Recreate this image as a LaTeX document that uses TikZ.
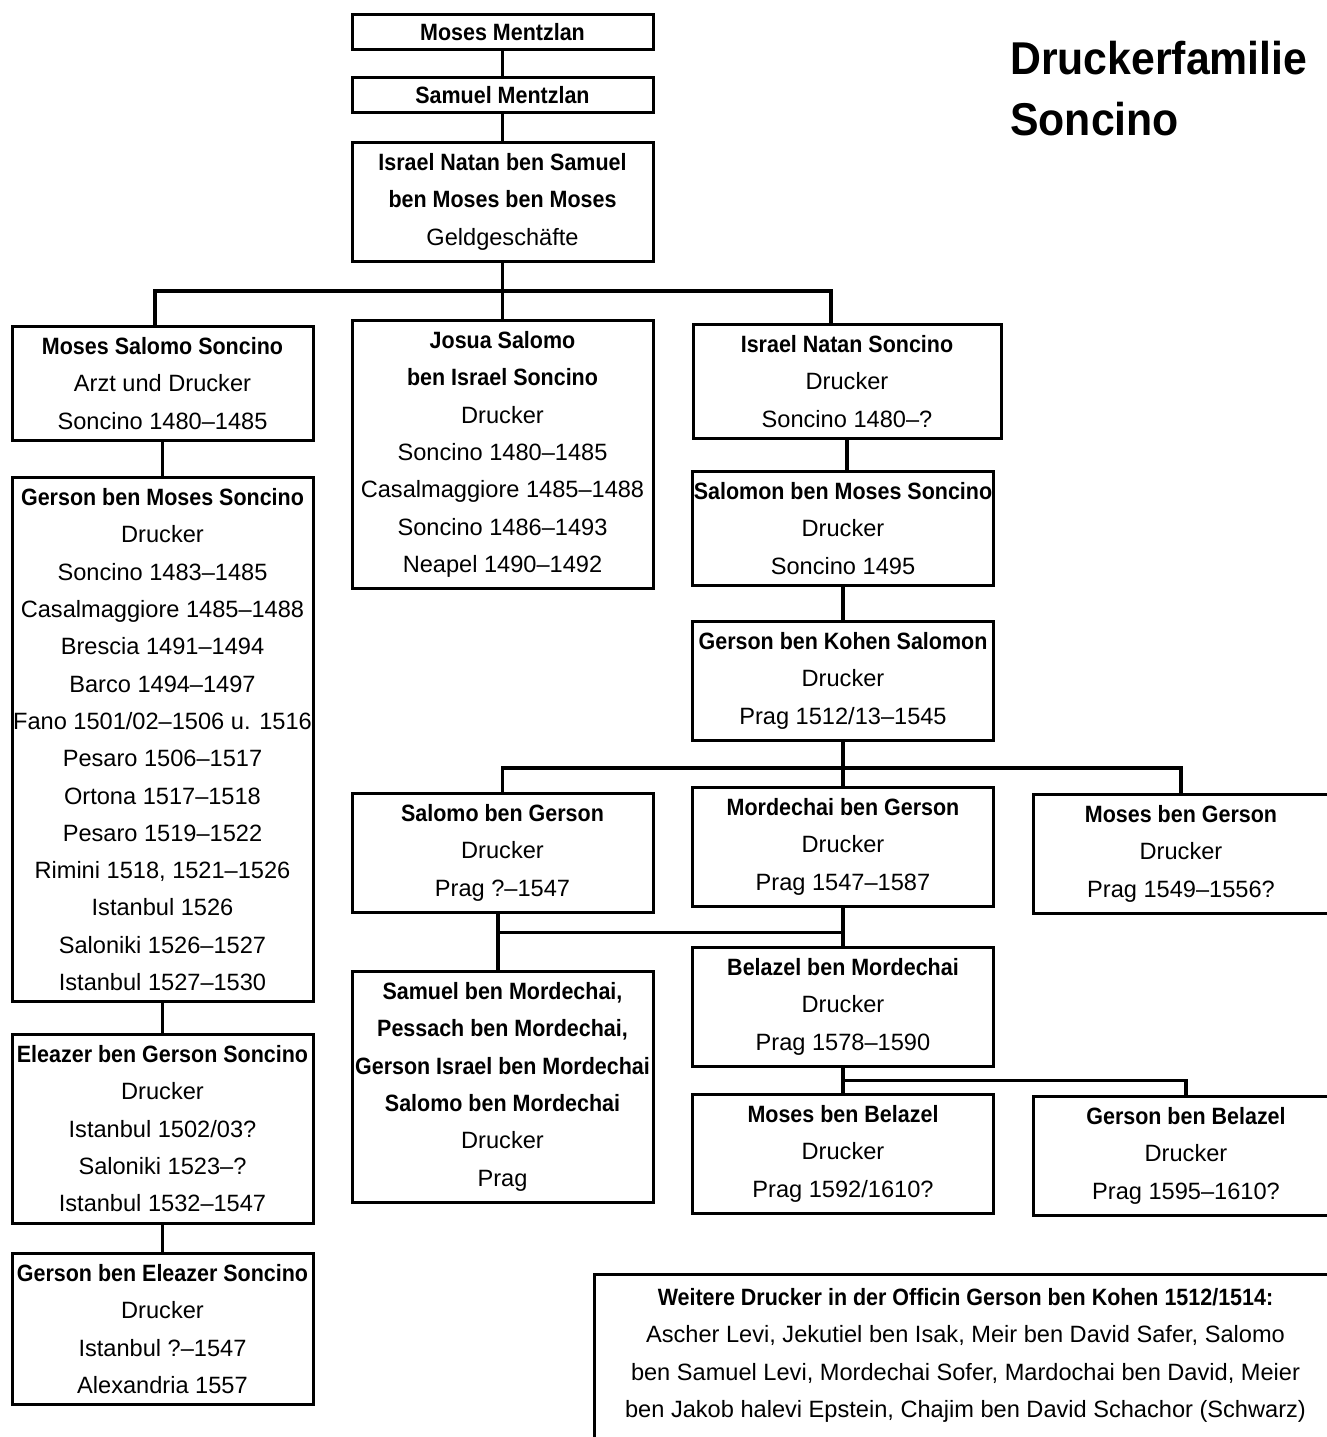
\documentclass[tikz,border=0pt]{standalone}
\usepackage{fontspec}
\setmainfont{Liberation Sans}[BoldFeatures={FakeStretch=0.91}]
\newfontfamily\titlefont{Liberation Sans Bold}[FakeStretch=0.93]
\usepackage{tikz}

\tikzset{
  box/.style={draw, line width=3pt, align=center, anchor=north, minimum width=301pt,
    inner xsep=0pt, inner ysep=11pt, font=\fontsize{23.6}{37.3}\selectfont},
  single/.style={box, inner ysep=9pt},
  link/.style={line width=3.5pt},
  title/.style={anchor=north west, inner sep=0pt, align=left, font=\titlefont\fontsize{46}{61}\selectfont},
}

\begin{document}
\begin{tikzpicture}[x=1pt, y=-1pt]
\useasboundingbox (0,0) rectangle (1326,1437);

\node[title] (Title) at (1010,41) {Druckerfamilie\\Soncino};

\node[single] (MosesM) at (502.5,13) {\textbf{Moses Mentzlan}};
\node[single] (SamuelM) at (502.5,76) {\textbf{Samuel Mentzlan}};
\node[box] (IsraelNbS) at (502.5,141) {\textbf{Israel Natan ben Samuel}\\\textbf{ben Moses ben Moses}\\Geldgeschäfte};

\node[box] (MosesS) at (162.5,325) {\textbf{Moses Salomo Soncino}\\Arzt und Drucker\\Soncino 1480–1485};
\node[box] (GersonMS) at (162.5,476) {\textbf{Gerson ben Moses Soncino}\\Drucker\\Soncino 1483–1485\\Casalmaggiore 1485–1488\\Brescia 1491–1494\\Barco 1494–1497\\Fano 1501/02–1506 u. 1516\\Pesaro 1506–1517\\Ortona 1517–1518\\Pesaro 1519–1522\\Rimini 1518, 1521–1526\\Istanbul 1526\\Saloniki 1526–1527\\Istanbul 1527–1530};
\node[box] (EleazerGS) at (162.5,1033) {\textbf{Eleazer ben Gerson Soncino}\\Drucker\\Istanbul 1502/03?\\Saloniki 1523–?\\Istanbul 1532–1547};
\node[box] (GersonES) at (162.5,1252) {\textbf{Gerson ben Eleazer Soncino}\\Drucker\\Istanbul ?–1547\\Alexandria 1557};

\node[box] (Josua) at (502.5,319) {\textbf{Josua Salomo}\\\textbf{ben Israel Soncino}\\Drucker\\Soncino 1480–1485\\Casalmaggiore 1485–1488\\Soncino 1486–1493\\Neapel 1490–1492};

\node[box, minimum width=308pt] (IsraelNS) at (847,323) {\textbf{Israel Natan Soncino}\\Drucker\\Soncino 1480–?};
\node[box] (SalomonMS) at (843,470) {\textbf{Salomon ben Moses Soncino}\\Drucker\\Soncino 1495};
\node[box] (GersonKS) at (843,620) {\textbf{Gerson ben Kohen Salomon}\\Drucker\\Prag 1512/13–1545};

\node[box] (SalomoG) at (502.5,792) {\textbf{Salomo ben Gerson}\\Drucker\\Prag ?–1547};
\node[box] (MordechaiG) at (843,786) {\textbf{Mordechai ben Gerson}\\Drucker\\Prag 1547–1587};
\node[box, minimum width=296pt] (MosesG) at (1181,793) {\textbf{Moses ben Gerson}\\Drucker\\Prag 1549–1556?};

\node[box] (SamuelMo) at (502.5,970) {\textbf{Samuel ben Mordechai,}\\\textbf{Pessach ben Mordechai,}\\\textbf{Gerson Israel ben Mordechai}\\\textbf{Salomo ben Mordechai}\\Drucker\\Prag};
\node[box] (BelazelM) at (843,946) {\textbf{Belazel ben Mordechai}\\Drucker\\Prag 1578–1590};
\node[box] (MosesB) at (843,1093) {\textbf{Moses ben Belazel}\\Drucker\\Prag 1592/1610?};
\node[box, minimum width=306pt] (GersonB) at (1186,1095) {\textbf{Gerson ben Belazel}\\Drucker\\Prag 1595–1610?};

\node[box, anchor=north west, minimum width=742pt, inner ysep=14pt] (Weitere) at (593,1273) {\textbf{Weitere Drucker in der Officin Gerson ben Kohen 1512/1514:}\\Ascher Levi, Jekutiel ben Isak, Meir ben David Safer, Salomo\\ben Samuel Levi, Mordechai Sofer, Mardochai ben David, Meier\\ben Jakob halevi Epstein, Chajim ben David Schachor (Schwarz)\\\strut};

\draw[link] (MosesM) -- (SamuelM);
\draw[link] (SamuelM) -- (IsraelNbS);
\draw[link] (IsraelNbS.south) -- (Josua.north);
\draw[link] ([xshift=-7.5pt]MosesS.north) -- ++(0,-34) -| ([xshift=-16pt]IsraelNS.north);

\draw[link] (MosesS.south) -- (GersonMS.north);
\draw[link] (GersonMS.south) -- (EleazerGS.north);
\draw[link] (EleazerGS.south) -- (GersonES.north);

\draw[link] (IsraelNS.south) -- (IsraelNS.south |- SalomonMS.north);
\draw[link] (SalomonMS.south) -- (GersonKS.north);
\draw[link] (GersonKS.south) -- (MordechaiG.north);
\draw[link] (SalomoG.north) -- ++(0,-24) -| (MosesG.north);

\coordinate (SplitSG) at ([xshift=-4.5pt,yshift=-19pt]SalomoG.south);
\draw[link] ([xshift=-4.5pt]SalomoG.south) -- ([xshift=-4.5pt]SamuelMo.north);
\draw[link] (SplitSG) -- (SplitSG -| MordechaiG.south);
\draw[link] (MordechaiG.south) -- (BelazelM.north);

\draw[link] (BelazelM.south) -- (MosesB.north);
\draw[link] ([yshift=-13pt]BelazelM.south) -| (GersonB.north);
\end{tikzpicture}
\end{document}
